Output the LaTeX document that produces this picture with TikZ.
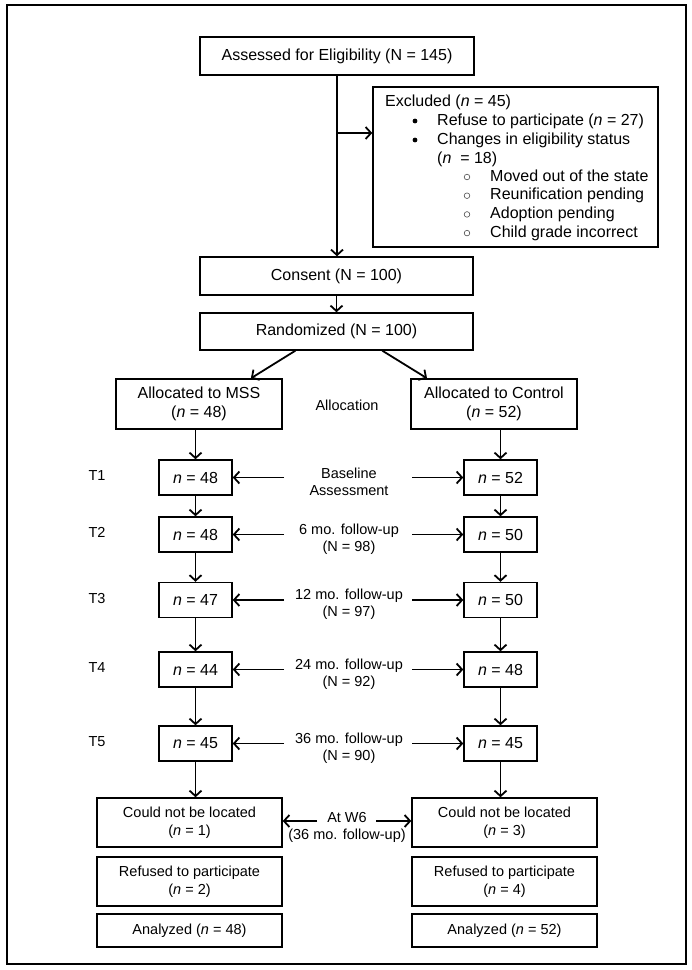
\documentclass[tikz,border=0pt]{standalone}
\usepackage{fontspec}
\setmainfont{Liberation Sans}
\usetikzlibrary{calc, arrows.meta}

\begin{document}
\begin{tikzpicture}[
    x=1pt,
    y=-1pt,
    box/.style={draw, rectangle, line width=1.4pt, inner sep=0, align=center,
      font=\fontsize{16}{18.5}\selectfont},
    tbox/.style={box, minimum width=73, minimum height=35},
    endbox/.style={box, minimum width=185, font=\fontsize{14.5}{18}\selectfont},
    lbl/.style={align=center, inner sep=0, font=\fontsize{14.5}{17}\selectfont},
    extxt/.style={anchor=west, inner sep=0, text height=11.5, text depth=3.5,
      font=\fontsize{16}{19}\selectfont},
    flow/.style={line width=1.8pt, -{Straight Barb[length=5.5pt,width=12pt]}}]

   \useasboundingbox (0,0) rectangle (692,970);
   \draw[line width=2pt] (7,5) rectangle (686,964);

   \path
     node(assess)  at (337,56)      [box, minimum width=274, minimum height=38] {Assessed for Eligibility (N = 145)}
     node(excl)    at (515.5,167)   [box, minimum width=285, minimum height=160] {}
     node(consent) at (336.5,276)   [box, minimum width=273, minimum height=38] {Consent (N = 100)}
     node(rand)    at (336.5,331.5) [box, minimum width=273, minimum height=37] {Randomized (N = 100)}
     node(mss)     at (199,404)     [box, minimum width=166, minimum height=50] {Allocated to MSS\\(\textit{n} = 48)}
     node(ctrl)    at (494,404)     [box, minimum width=166, minimum height=50] {Allocated to Control\\(\textit{n} = 52)}
     node(alloc)   at (347,405)     [lbl] {Allocation};

   % excluded list
   \node[extxt] (ex0) at (385,102) {Excluded (\textit{n} = 45)};
   \node[extxt] (ex1) at (437,121) {Refuse to participate (\textit{n} = 27)};
   \node[extxt] (ex2) at (437,140) {Changes in eligibility status};
   \node[extxt] (ex3) at (437,159) {(\textit{n}\ \ = 18)};
   \foreach \y in {121,140}
     \fill (415,\y) circle (2.4);
   \foreach \t[count=\i] in {Moved out of the state, Reunification pending, Adoption pending, Child grade incorrect} {
     \draw[line width=.6pt, black!70] (467,158.3+18.7*\i) circle (2.8);
     \node[extxt] (sub\i) at (490,158.3+18.7*\i) {\t};
   }

   \coordinate (br) at (337,133);
   \draw[flow] (assess.south) -- (assess.south |- consent.north);
   \draw[flow] (br) -- (br -| excl.west);
   \draw[flow] (consent) -- (rand);
   \draw[flow] ($(rand.south west)!.35!(rand.south east)$) -- ($(mss.north west)!.81!(mss.north east)$);
   \draw[flow] ($(rand.south west)!.667!(rand.south east)$) -- ($(ctrl.north west)!.1!(ctrl.north east)$);

   % follow-up waves
   \foreach \y/\nl/\nr/\txt[count=\i] in {477.5/48/52/{Baseline\\Assessment},
       534.5/48/50/{6 mo. follow-up\\(N = 98)},
       600/47/50/{12 mo. follow-up\\(N = 97)},
       669.5/44/48/{24 mo. follow-up\\(N = 92)},
       743.5/45/45/{36 mo. follow-up\\(N = 90)}} {
     \node[lbl] (t\i) at (97,\y-2) {T\i};
     \node[tbox] (tl\i) at (195.5,\y) {\textit{n} = \nl};
     \node[tbox] (tr\i) at (500.5,\y) {\textit{n} = \nr};
     \node[lbl] (mid\i) at (349,\y+4.5) {\txt};
     \coordinate (al\i) at (284,\y);
     \coordinate (ar\i) at (412,\y);
     \draw[flow] (al\i) -- (tl\i.east);
     \draw[flow] (ar\i) -- (tr\i.west);
   }
   \draw[flow] (mss.south -| tl1.north) -- (tl1.north);
   \draw[flow] (ctrl.south -| tr1.north) -- (tr1.north);
   \foreach \i/\j in {1/2,2/3,3/4,4/5} {
     \draw[flow] (tl\i) -- (tl\j);
     \draw[flow] (tr\i) -- (tr\j);
   }

   % final outcomes
   \path
     node(lostl) at (189.5,822.5) [endbox, minimum height=49] {Could not be located\\(\textit{n} = 1)}
     node(lostr) at (504.5,822.5) [endbox, minimum height=49] {Could not be located\\(\textit{n} = 3)}
     node(refl)  at (189.5,881.5) [endbox, minimum height=49] {Refused to participate\\(\textit{n} = 2)}
     node(refr)  at (504.5,881.5) [endbox, minimum height=49] {Refused to participate\\(\textit{n} = 4)}
     node(anl)   at (189.5,930.5) [endbox, minimum height=33] {Analyzed (\textit{n} = 48)}
     node(anr)   at (504.5,930.5) [endbox, minimum height=33] {Analyzed (\textit{n} = 52)}
     node(w6)    at (347,827)     [lbl] {At W6\\(36 mo. follow-up)};

   \draw[flow] (tl5) -- (tl5 |- lostl.north);
   \draw[flow] (tr5) -- (tr5 |- lostr.north);
   \coordinate (wl) at (317,821);
   \coordinate (wr) at (376,821);
   \draw[flow] (wl) -- (wl -| lostl.east);
   \draw[flow] (wr) -- (wr -| lostr.west);
\end{tikzpicture}
\end{document}
